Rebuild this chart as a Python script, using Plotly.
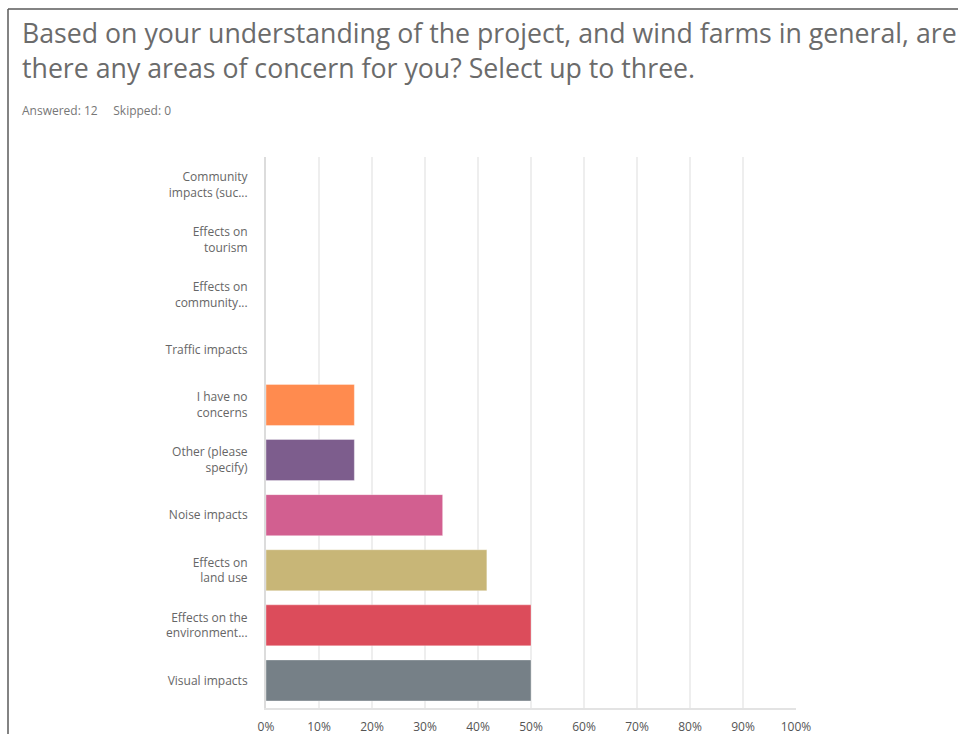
import plotly.graph_objects as go

categories = [
    "Community<br>impacts (suc...",
    "Effects on<br>tourism",
    "Effects on<br>community...",
    "Traffic impacts",
    "I have no<br>concerns",
    "Other (please<br>specify)",
    "Noise impacts",
    "Effects on<br>land use",
    "Effects on the<br>environment...",
    "Visual impacts",
]
values = [0, 0, 0, 0, 16.67, 16.67, 33.33, 41.67, 50.0, 50.0]
colors = ["#00BF6F", "#507CB6", "#F9BE00", "#6BC8CD", "#FF8B4F",
          "#7D5D8D", "#D25F90", "#C8B677", "#DC4C5B", "#768087"]
x_ticks = [0, 10, 20, 30, 40, 50, 60, 70, 80, 90, 100]
x_labels = [f"{t}%" for t in x_ticks]

title_line1 = "Based on your understanding of the project, and wind farms in general, are"
title_line2 = "there any areas of concern for you? Select up to three."
subtitle = "Answered: 12&nbsp;&nbsp;&nbsp;&nbsp;&nbsp;Skipped: 0"

W, H = 958, 734
L, R, T, B = 266, 162, 157, 26
pw, ph = W - L - R, H - T - B

def px(x):
    return (x - L) / pw

def py(y):
    return (H - B - y) / ph

FONT = "Open Sans"

fig = go.Figure(go.Bar(
    x=values,
    y=categories,
    orientation="h",
    marker=dict(color=colors, line=dict(color="rgba(255,255,255,0.35)", width=1)),
    hoverinfo="x+y",
))

fig.update_layout(
    width=W, height=H,
    margin=dict(l=L, r=R, t=T, b=B, pad=0, autoexpand=False),
    paper_bgcolor="white", plot_bgcolor="white",
    bargap=0.255,
    showlegend=False,
    font=dict(family=FONT, size=12, color="#666666"),
    xaxis=dict(
        range=[0, 100], tickvals=x_ticks, ticktext=x_labels,
        showgrid=True, gridcolor="#eeeeee", gridwidth=2,
        zeroline=False, showline=True, linecolor="#e3e3e3", linewidth=2,
        ticks="", ticklabelstandoff=7, tickfont=dict(size=12, color="#555555"),
        automargin=False, fixedrange=True,
    ),
    yaxis=dict(
        categoryorder="array", categoryarray=categories[::-1],
        showgrid=False, zeroline=False,
        showline=True, linecolor="#dcdcdc", linewidth=2,
        ticks="", ticklabelstandoff=14,
        tickfont=dict(size=12, color="#666666"),
        automargin=False, fixedrange=True,
    ),
    annotations=[
        dict(text=title_line1, xref="paper", yref="paper", x=px(20), y=py(32),
             xanchor="left", yanchor="middle", showarrow=False,
             font=dict(family=FONT, size=26.7, color="#6b6b6b")),
        dict(text=title_line2, xref="paper", yref="paper", x=px(20), y=py(68),
             xanchor="left", yanchor="middle", showarrow=False,
             font=dict(family=FONT, size=26.7, color="#6b6b6b")),
        dict(text=subtitle, xref="paper", yref="paper", x=px(20), y=py(110),
             xanchor="left", yanchor="middle", showarrow=False,
             font=dict(family=FONT, size=12, color="#777777")),
    ],
    shapes=[
        dict(type="line", xref="paper", yref="paper", x0=px(8), x1=px(960),
             y0=py(9), y1=py(9), line=dict(color="#5a5a5a", width=1.5)),
        dict(type="line", xref="paper", yref="paper", x0=px(8), x1=px(8),
             y0=py(9), y1=py(740), line=dict(color="#5a5a5a", width=1.5)),
    ],
)

fig.write_html("out.html")
